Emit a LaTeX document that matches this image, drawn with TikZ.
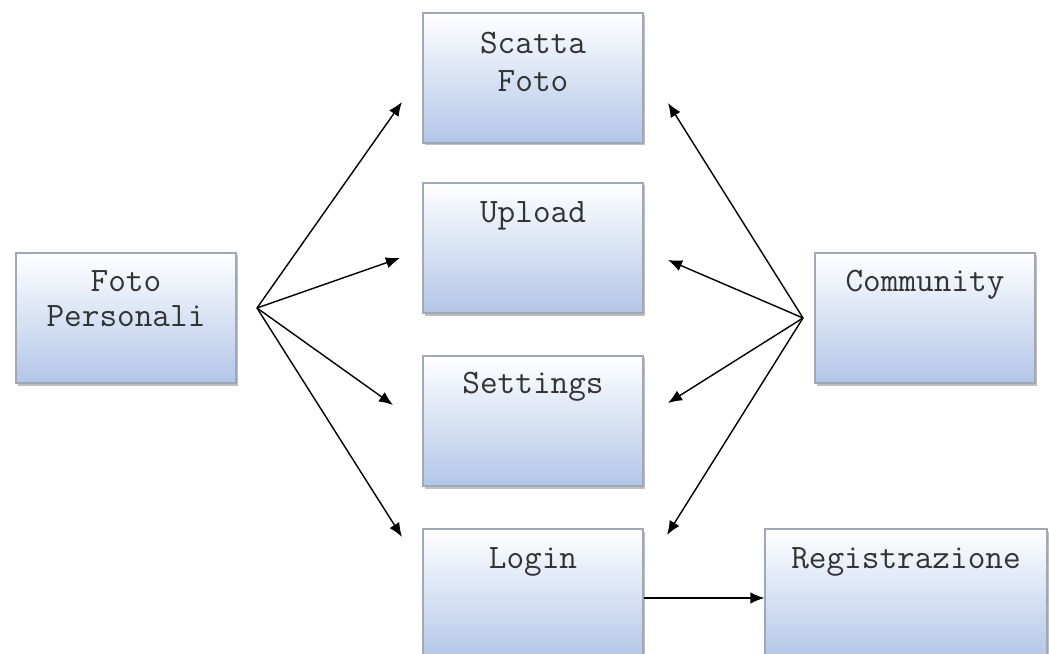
\documentclass[tikz,border=0pt]{standalone}
\usepackage{fontspec}
\usetikzlibrary{shadows,arrows.meta,positioning}
\definecolor{boxblue}{RGB}{178,198,232}
\definecolor{boxline}{RGB}{160,168,182}
\tikzset{
	box/.style={rectangle,draw=boxline,line width=0.6pt,top color=white,bottom color=boxblue,minimum width=4.4cm,minimum height=2.6cm,drop shadow={shadow xshift=0.03cm,shadow yshift=-0.05cm,opacity=0.5,fill=gray}},
	boxtext/.style={font=\ttfamily\fontsize{19.5}{22}\selectfont,text=black!80,align=center,inner sep=0pt},
	freccia/.style={->,line width=0.8pt}
}
\begin{document}
\begin{tikzpicture}[>={Latex[length=8pt,width=6.5pt]}]
				\useasboundingbox (0,0) rectangle (20.98,-13.08);
				\clip (0,0) rectangle (20.98,-13.08);
				\node[box] (foto) at (2.52,-6.36) {};
				\node[box] (scatta) at (10.66,-1.56) {};
				\node[box] (upload) at (10.66,-4.96) {};
				\node[box] (settings) at (10.66,-8.42) {};
				\node[box] (login) at (10.66,-11.88) {};
				\node[box] (community) at (18.5,-6.36) {};
				\node[box,minimum width=5.64cm] (registrazione) at (18.12,-11.88) {};
				\node[boxtext,below=0.36cm of foto.north] (fotoT) {Foto\\[-2pt]Personali};
				\node[boxtext,below=0.38cm of scatta.north] (scattaT) {Scatta\\[0pt]Foto};
				\node[boxtext,below=0.38cm of upload.north] (uploadT) {Upload};
				\node[boxtext,below=0.32cm of settings.north] (settingsT) {Settings};
				\node[boxtext,below=0.38cm of login.north] (loginT) {Login};
				\node[boxtext,below=0.34cm of community.north] (communityT) {Community};
				\node[boxtext,below=0.38cm of registrazione.north] (registrazioneT) {Registrazione};
				\coordinate (hubL) at (5.14,-6.16);
				\coordinate (hubR) at (16.06,-6.36);
				\coordinate (scattaL) at (8.04,-2.04);
				\coordinate (uploadL) at (8.0,-5.16);
				\coordinate (settingsL) at (7.86,-8.1);
				\coordinate (loginL) at (8.04,-10.74);
				\coordinate (scattaR) at (13.36,-2.06);
				\coordinate (uploadR) at (13.36,-5.2);
				\coordinate (settingsR) at (13.36,-8.06);
				\coordinate (loginR) at (13.34,-10.7);
				\draw[freccia] (hubL) -- (scattaL);
				\draw[freccia] (hubL) -- (uploadL);
				\draw[freccia] (hubL) -- (settingsL);
				\draw[freccia] (hubL) -- (loginL);
				\draw[freccia] (hubR) -- (scattaR);
				\draw[freccia] (hubR) -- (uploadR);
				\draw[freccia] (hubR) -- (settingsR);
				\draw[freccia] (hubR) -- (loginR);
				\draw[freccia] ([yshift=-0.08cm]login.east) -- ([yshift=-0.08cm]registrazione.west);
			\end{tikzpicture}
\end{document}
